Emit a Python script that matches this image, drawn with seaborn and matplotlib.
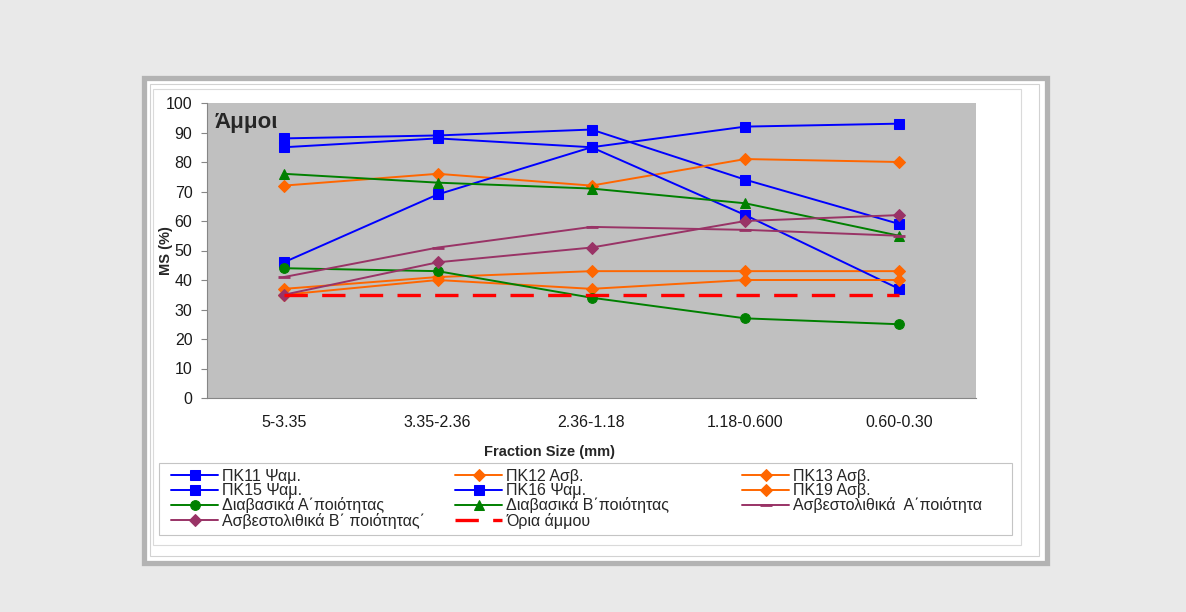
import matplotlib
matplotlib.use("Agg")
import numpy as np
import matplotlib.pyplot as plt
from matplotlib.patches import Rectangle
import seaborn as sns

# Fraction sizes on the x axis
fractions = ["5-3.35", "3.35-2.36", "2.36-1.18", "1.18-0.600", "0.60-0.30"]

# MS (%) values
pk11 = [88, 89, 91, 74, 59]
pk12 = [72, 76, 72, 81, 80]
pk13 = [37, 41, 43, 43, 43]
pk15 = [85, 88, 85, 62, 37]
pk16 = [46, 69, 85, 92, 93]
pk19 = [35, 40, 37, 40, 40]
diav_a = [44, 43, 34, 27, 25]
diav_b = [76, 73, 71, 66, 55]
asv_a = [41, 51, 58, 57, 55]
asv_b = [35, 46, 51, 60, 62]
sand_limit = [35, 35, 35, 35, 35]

labels = ["ΠΚ11 Ψαμ.", "ΠΚ12 Ασβ.", "ΠΚ13 Ασβ.", "ΠΚ15 Ψαμ.", "ΠΚ16 Ψαμ.", "ΠΚ19 Ασβ.",
          "Διαβασικά Α΄ποιότητας", "Διαβασικά Β΄ποιότητας", "Ασβεστολιθικά  Α΄ποιότητα",
          "Ασβεστολιθικά Β΄ ποιότητας΄", "Όρια άμμου"]

sns.set_style("white")
plt.rcParams['font.family'] = ['Liberation Sans', 'DejaVu Sans']

W, H = 1186, 612
fig = plt.figure(figsize=(W / 100, H / 100), dpi=100, facecolor="#e9e9e9")


def frame(x0, y0, x1, y1, **kw):
    fig.patches.append(Rectangle((x0 / W, 1 - y1 / H), (x1 - x0) / W, (y1 - y0) / H,
                                 transform=fig.transFigure, zorder=-1, **kw))


# chart frame (Excel style)
frame(144, 78, 1047, 563, facecolor="white", edgecolor="#b3b3b3", linewidth=3.8)
frame(150, 84, 1039, 556, facecolor="none", edgecolor="#d2d2d2", linewidth=0.8)
frame(153, 89, 1021, 545, facecolor="none", edgecolor="#dadada", linewidth=0.8)
frame(159, 463, 1012, 535, facecolor="white", edgecolor="#c4c4c4", linewidth=0.8)

ax = fig.add_axes([207 / W, 1 - 398 / H, 769 / W, 295 / H], facecolor="#c0c0c0")

blue, orange, green, plum = "#0000ff", "#ff6600", "#008000", "#993366"
series = [
    (pk11, blue, "s", 7), (pk12, orange, "D", 6), (pk13, orange, "D", 6),
    (pk15, blue, "s", 7), (pk16, blue, "s", 7), (pk19, orange, "D", 6),
    (diav_a, green, "o", 7), (diav_b, green, "^", 7.5), (asv_a, plum, "_", 9),
    (asv_b, plum, "D", 6),
]
for (vals, col, mk, ms), lab in zip(series, labels):
    sns.lineplot(x=fractions, y=vals, ax=ax, color=col, marker=mk, markersize=ms,
                 markeredgecolor=col, markeredgewidth=2 if mk == "_" else 0.75,
                 linewidth=1.4, label=lab, sort=False)

sns.lineplot(x=fractions, y=sand_limit, ax=ax, color="#ff0000", linewidth=2.4,
             label=labels[-1], sort=False)
ax.lines[-1].set_dashes((7, 4.3))

if ax.get_legend() is not None:
    ax.get_legend().remove()

ax.set_xlim(-0.5, 4.5)
ax.set_ylim(0, 100)
ax.set_yticks(range(0, 101, 10))
ax.set_xticks(range(len(fractions)))
ax.set_xticklabels(fractions)
ax.set_xticks(np.arange(-0.5, 5, 1), minor=True)
ax.tick_params(axis="x", which="major", length=0, pad=12, labelsize=11.5, colors="#1a1a1a")
ax.tick_params(axis="x", which="minor", length=4, width=0.8, color="#868686", direction="out")
ax.tick_params(axis="y", length=4, width=0.8, color="#868686", direction="out", pad=6.5,
               labelsize=11.5, labelcolor="#1a1a1a", left=True)
for side in ["top", "right"]:
    ax.spines[side].set_visible(False)
for side in ["left", "bottom"]:
    ax.spines[side].set_color("#868686")
    ax.spines[side].set_linewidth(0.8)

ax.set_ylabel("MS (%)", fontsize=10.5, fontweight="bold")
ax.yaxis.set_label_coords((173 - 207) / 769, 0.5)
ax.set_xlabel("Fraction Size (mm)", fontsize=10.5, fontweight="bold")
ax.xaxis.set_label_coords((550 - 207) / 769, (398 - 445) / 295)

ax.text(0.0104, 0.968, "Άμμοι", transform=ax.transAxes, fontsize=16,
        fontweight="bold", va="top", ha="left")

# legend laid out row by row in three columns
handles, labs = ax.get_legend_handles_labels()
for c, x in enumerate([171, 455, 742]):
    fig.legend(handles[c::3], labs[c::3], loc="upper left",
               bbox_to_anchor=(x / W, 1 - 469 / H), frameon=False, fontsize=11.5,
               handlelength=2.95, handletextpad=0.25, labelspacing=-0.05,
               borderpad=0, borderaxespad=0)

fig.savefig("out.png", dpi=100, facecolor=fig.get_facecolor())
